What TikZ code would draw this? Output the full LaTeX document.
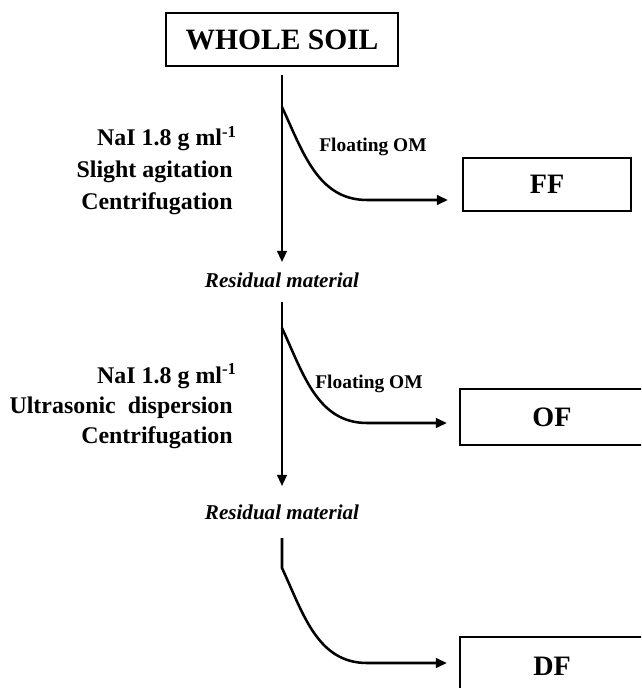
\documentclass[tikz,border=0pt]{standalone}
\usepackage{fontspec}
\setmainfont{Liberation Serif}
\usetikzlibrary{arrows.meta, positioning}

\newdimen\pxu
\pxu=0.025cm

\tikzset{
  fracbox/.style={draw, line width=1.5pt, inner sep=0pt, minimum height=53\pxu,
    font=\fontsize{20}{24}\selectfont\bfseries},
  treat/.style={anchor=base east, inner sep=0pt, font=\fontsize{17}{20}\selectfont\bfseries},
  floatlbl/.style={anchor=base, inner sep=0pt, font=\fontsize{13.8}{16}\selectfont\bfseries},
  residlbl/.style={anchor=base, inner sep=0pt, font=\fontsize{15}{18}\selectfont\bfseries\itshape},
  flow/.style={line width=1.8pt, -{Triangle[length=0.28cm, width=0.24cm]}},
}

\begin{document}
\begin{tikzpicture}[x=0.025cm, y=-0.025cm]
    \useasboundingbox (0,0) rectangle (641,688);
    \clip (0,0) rectangle (641,688);

    % fractions
    \node[fracbox, minimum width=232\pxu, font=\fontsize{21}{25}\selectfont\bfseries] (soil) at (282,39.5) {WHOLE SOIL};
    \node[fracbox, minimum width=168\pxu] (ff) at (547,184.5) {FF};
    \node[fracbox, minimum width=184\pxu, minimum height=56\pxu] (of) at (552,417) {OF};
    \node[fracbox, minimum width=184\pxu, minimum height=58\pxu] (df) at (552,666) {DF};

    \node[residlbl] (res1) at (282,287) {Residual material};
    \node[residlbl] (res2) at (282,519) {Residual material};

    % treatments
    \node[treat] (nai1) at (237,146) {NaI 1.8 g ml\textsuperscript{-1}};
    \node[treat] (agit) at (233,178) {Slight agitation};
    \node[treat] (cent1) at (233,210) {Centrifugation};
    \node[treat] (nai2) at (237,383) {NaI 1.8 g ml\textsuperscript{-1}};
    \node[treat] (ultra) at (233,413) {Ultrasonic\ \ dispersion};
    \node[treat] (cent2) at (233,443) {Centrifugation};

    \node[floatlbl] (flo1) at (373,152) {Floating OM};
    \node[floatlbl] (flo2) at (369,388) {Floating OM};

    % main flow
    \draw[flow, shorten <=0.2cm, shorten >=0.25cm] (soil.south) -- (soil.south |- res1.north);
    \draw[flow, shorten <=0.37cm, shorten >=0.45cm] (res1.south) -- (res1.south |- res2.north);

    % floating fractions
    \coordinate (b1) at (282,107);
    \coordinate (t1) at (448,200);
    \coordinate (b2) at (282,328);
    \coordinate (t2) at (447,423);
    \coordinate (b3) at (282,538);
    \coordinate (t3) at (447,663);
    \draw[flow] (b1) to[out=-65, in=180] ++(85,93) -- (t1);
    \draw[flow] (b2) to[out=-65, in=180] ++(85,95) -- (t2);
    \draw[flow] (b3) -- ++(0,30) to[out=-65, in=180] ++(85,95) -- (t3);
\end{tikzpicture}
\end{document}
